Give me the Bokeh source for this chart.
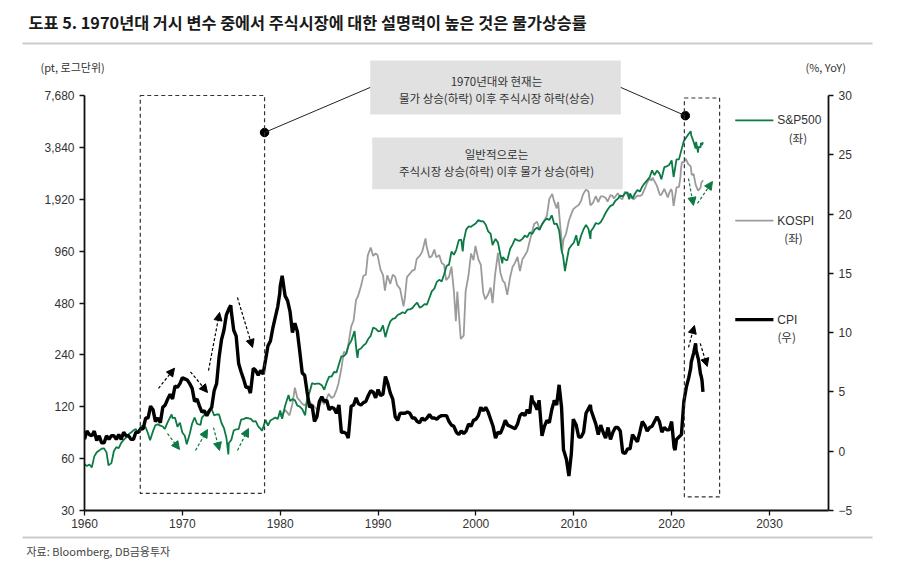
from bokeh.plotting import figure
from bokeh.models import (Range1d, LinearAxis, LinearScale, FixedTicker, NumeralTickFormatter,
                          BoxAnnotation, Arrow, NormalHead, Label)
from bokeh.core.properties import value
from bokeh.embed import file_html
from bokeh.resources import INLINE

# ---------------- data ----------------
sp_t = [1960.0, 1960.25, 1960.5, 1960.75, 1961.0, 1961.25, 1961.5, 1961.75,
        1962.0, 1962.25, 1962.45, 1962.75, 1963.0, 1963.25, 1963.5, 1963.75,
        1964.0, 1964.25, 1964.5, 1964.75, 1965.0, 1965.25, 1965.45, 1965.75,
        1966.0, 1966.25, 1966.5, 1966.7, 1967.0, 1967.25, 1967.5, 1967.75,
        1968.0, 1968.2, 1968.5, 1968.9, 1969.0, 1969.25, 1969.5, 1969.75,
        1970.0, 1970.25, 1970.45, 1970.75, 1971.0, 1971.25, 1971.5, 1971.85,
        1972.0, 1972.25, 1972.5, 1972.9, 1973.0, 1973.25, 1973.5, 1973.75,
        1974.0, 1974.25, 1974.5, 1974.7, 1974.75, 1975.0, 1975.25, 1975.5, 1975.75,
        1976.0, 1976.25, 1976.5, 1976.75, 1977.0, 1977.25, 1977.5, 1977.75,
        1978.0, 1978.15, 1978.5, 1978.75, 1979.0, 1979.25, 1979.5, 1979.75,
        1980.0, 1980.2, 1980.5, 1980.85, 1981.0, 1981.25, 1981.5, 1981.75,
        1982.0, 1982.25, 1982.55, 1982.75, 1983.0, 1983.25, 1983.5, 1983.75,
        1984.0, 1984.25, 1984.5, 1984.75, 1985.0, 1985.25, 1985.5, 1985.75,
        1986.0, 1986.25, 1986.5, 1986.75, 1987.0, 1987.25, 1987.6, 1987.8, 1987.9,
        1988.0, 1988.25, 1988.5, 1988.75, 1989.0, 1989.25, 1989.5, 1989.75,
        1990.0, 1990.25, 1990.5, 1990.75, 1991.0, 1991.25, 1991.5, 1991.75,
        1992.0, 1992.25, 1992.5, 1992.75, 1993.0, 1993.25, 1993.5, 1993.75,
        1994.0, 1994.25, 1994.5, 1994.75, 1995.0, 1995.25, 1995.5, 1995.75,
        1996.0, 1996.25, 1996.5, 1996.75, 1997.0, 1997.25, 1997.5, 1997.75,
        1998.0, 1998.25, 1998.5, 1998.65, 1998.75, 1999.0, 1999.25, 1999.5, 1999.75,
        2000.0, 2000.25, 2000.5, 2000.75, 2001.0, 2001.25, 2001.5, 2001.7, 2001.75,
        2002.0, 2002.25, 2002.5, 2002.7, 2002.75, 2003.0, 2003.2, 2003.5, 2003.75,
        2004.0, 2004.25, 2004.5, 2004.75, 2005.0, 2005.25, 2005.5, 2005.75,
        2006.0, 2006.25, 2006.5, 2006.75, 2007.0, 2007.25, 2007.5, 2007.75,
        2008.0, 2008.25, 2008.5, 2008.75, 2008.9, 2009.1, 2009.2, 2009.5, 2009.75,
        2010.0, 2010.25, 2010.45, 2010.75, 2011.0, 2011.25, 2011.5, 2011.7, 2011.75,
        2012.0, 2012.25, 2012.5, 2012.75, 2013.0, 2013.25, 2013.5, 2013.75,
        2014.0, 2014.25, 2014.5, 2014.75, 2015.0, 2015.25, 2015.5, 2015.65, 2015.75,
        2016.0, 2016.25, 2016.5, 2016.75, 2017.0, 2017.25, 2017.5, 2017.75,
        2018.0, 2018.25, 2018.5, 2018.75, 2018.95, 2019.25, 2019.5, 2019.75,
        2020.0, 2020.2, 2020.5, 2020.75, 2021.0, 2021.25, 2021.5, 2021.75, 2021.95,
        2022.0, 2022.25, 2022.45, 2022.5, 2022.7, 2022.75, 2022.95,
        2023.0, 2023.1, 2023.2]
sp_v = [55.6, 54.4, 55.5, 53.4, 61.8, 65.3, 66.8, 68.6,
        68.8, 65.2, 54.8, 56.5, 66.2, 70.0, 69.1, 74.0,
        77.0, 79.5, 83.2, 85.0, 87.6, 89.1, 84.1, 92.4,
        92.9, 91.1, 83.6, 76.6, 86.6, 94.0, 94.8, 93.3,
        92.2, 89.1, 97.7, 108.4, 103.0, 103.7, 91.8, 97.1,
        85.0, 81.5, 72.7, 83.3, 95.9, 103.9, 95.6, 94.0,
        103.9, 107.7, 107.4, 118.1, 116.0, 107.0, 108.2, 108.3,
        96.6, 90.3, 79.3, 63.5, 73.9, 77.0, 87.3, 88.8, 89.0,
        100.9, 101.6, 103.4, 102.9, 102.0, 98.4, 98.9, 92.3,
        89.3, 87.0, 100.7, 93.2, 99.9, 101.8, 103.8, 101.8,
        114.2, 102.1, 121.7, 140.5, 129.5, 132.8, 130.9, 121.9,
        120.4, 116.4, 107.1, 133.7, 145.3, 164.4, 162.6, 163.6,
        163.4, 160.1, 150.7, 166.1, 179.6, 179.8, 190.9, 189.8,
        211.8, 235.5, 236.1, 243.9, 274.1, 288.4, 329.8, 251.8, 230.3,
        257.1, 261.3, 272.0, 279.0, 297.5, 309.6, 346.1, 340.4,
        329.1, 330.8, 356.2, 304.0, 343.9, 375.3, 387.8, 392.5,
        408.8, 414.9, 424.2, 418.7, 438.8, 440.2, 448.1, 467.8,
        481.6, 450.9, 458.3, 472.4, 470.4, 514.7, 562.1, 581.5,
        636.0, 654.2, 639.9, 705.3, 786.2, 801.3, 954.3, 914.6,
        980.3, 1111.8, 1120.7, 957.3, 1098.7, 1279.6, 1335.2, 1328.7, 1362.9,
        1394.5, 1452.4, 1430.8, 1429.4, 1366.0, 1249.5, 1211.2, 1040.9, 1059.8,
        1130.2, 1076.9, 911.6, 815.3, 885.8, 855.7, 848.2, 990.3, 1050.7,
        1131.1, 1107.3, 1101.7, 1130.2, 1181.3, 1156.9, 1234.2, 1207.0,
        1280.1, 1310.6, 1276.7, 1377.9, 1438.2, 1482.4, 1455.3, 1549.4,
        1378.6, 1385.6, 1267.4, 968.8, 903.3, 735.1, 797.9, 987.5, 1036.2,
        1073.9, 1186.7, 1030.7, 1183.3, 1286.1, 1363.6, 1292.3, 1131.4, 1253.3,
        1312.4, 1397.9, 1379.3, 1412.2, 1498.1, 1597.6, 1685.7, 1756.5,
        1782.6, 1883.9, 1930.7, 2018.1, 1995.0, 2085.5, 2103.8, 1920.0, 2079.4,
        1940.2, 2065.3, 2173.6, 2126.2, 2278.9, 2384.2, 2470.3, 2575.3,
        2823.8, 2648.1, 2816.3, 2711.7, 2506.9, 2945.8, 2980.4, 3037.6,
        3225.5, 2584.6, 3271.1, 3270.0, 3714.2, 4181.2, 4395.3, 4605.4, 4766.2,
        4515.6, 4131.9, 3785.4, 4130.3, 3585.6, 3872.0, 3839.5,
        4076.6, 3970.2, 4109.3]

ks_t = [1980.0, 1980.5, 1980.95, 1981.25, 1981.5, 1981.75, 1981.95,
        1982.25, 1982.5, 1982.75, 1982.95, 1983.25, 1983.5, 1983.75, 1983.95,
        1984.25, 1984.5, 1984.75, 1984.95, 1985.25, 1985.5, 1985.75, 1985.95,
        1986.25, 1986.5, 1986.75, 1986.95, 1987.25, 1987.5, 1987.75, 1987.95,
        1988.25, 1988.5, 1988.75, 1988.95, 1989.25, 1989.5, 1989.75, 1989.95,
        1990.25, 1990.5, 1990.7, 1990.95, 1991.25, 1991.5, 1991.75, 1991.95,
        1992.25, 1992.6, 1992.75, 1992.95, 1993.25, 1993.5, 1993.75, 1993.95,
        1994.25, 1994.5, 1994.85, 1994.95, 1995.25, 1995.5, 1995.75, 1995.95,
        1996.25, 1996.5, 1996.75, 1996.95, 1997.25, 1997.5, 1997.75, 1997.95,
        1998.1, 1998.25, 1998.45, 1998.75, 1998.95, 1999.25, 1999.5, 1999.75, 1999.95,
        2000.25, 2000.5, 2000.75, 2000.95, 2001.25, 2001.5, 2001.7, 2001.95,
        2002.25, 2002.5, 2002.75, 2002.95, 2003.2, 2003.5, 2003.75, 2003.95,
        2004.25, 2004.5, 2004.75, 2004.95, 2005.25, 2005.5, 2005.75, 2005.95,
        2006.25, 2006.5, 2006.75, 2006.95, 2007.25, 2007.5, 2007.8, 2007.95,
        2008.25, 2008.4, 2008.75, 2008.8, 2008.95, 2009.2, 2009.5, 2009.75, 2009.95,
        2010.25, 2010.5, 2010.75, 2010.95, 2011.25, 2011.5, 2011.7, 2011.95,
        2012.25, 2012.5, 2012.75, 2012.95, 2013.25, 2013.45, 2013.75, 2013.95,
        2014.1, 2014.5, 2014.75, 2014.95, 2015.25, 2015.5, 2015.7, 2015.95,
        2016.1, 2016.5, 2016.75, 2016.95, 2017.25, 2017.5, 2017.75, 2017.95,
        2018.05, 2018.5, 2018.8, 2018.95, 2019.25, 2019.6, 2019.75, 2019.95,
        2020.05, 2020.2, 2020.5, 2020.75, 2020.9, 2020.95,
        2021.05, 2021.25, 2021.45, 2021.7, 2021.95,
        2022.05, 2022.25, 2022.45, 2022.7, 2022.95, 2023.05, 2023.1, 2023.2]
ks_v = [105, 115, 106.9, 125, 155, 135, 131.3,
        125, 122, 127, 129.0, 124, 120, 116, 121.2,
        130, 124, 134, 142.5, 135, 138, 150, 163.4,
        200, 250, 245, 272.6, 350, 380, 500, 525.1,
        600, 690, 700, 907.2, 1007, 900, 930, 909.7,
        750, 700, 566, 696, 620, 700, 680, 610.9,
        580, 459, 520, 678.4, 710, 740, 750, 866.2,
        900, 950, 1138, 1027.4, 880, 900, 980, 882.9,
        910, 820, 800, 651.2, 680, 780, 560, 376.3,
        560, 420, 297, 310, 562.5, 700, 930, 850, 1028.1,
        860, 800, 550, 504.6, 540, 590, 479, 693.7,
        937, 720, 646, 627.6, 535, 680, 780, 810.7,
        890, 735, 860, 895.9, 960, 1100, 1250, 1379.4,
        1420, 1290, 1360, 1434.5, 1540, 1930, 2064, 1897,
        1700, 1850, 1113, 940, 1124.5, 1206, 1440, 1580, 1682.8,
        1740, 1780, 1880, 2051, 2190, 2130, 1770, 1825.7,
        2000, 1850, 1996, 1997, 1960, 1863, 2030, 2011,
        1940, 2080, 1960, 1915.6, 2127, 2030, 1963, 1961,
        1912, 2016, 2008, 2026.5, 2205, 2402, 2523, 2467.5,
        2566, 2295, 2030, 2041, 2204, 1967, 2083, 2197.7,
        2119, 1754, 2249, 2267, 2591, 2873.5,
        3152, 3147, 3296, 3068, 2977.7,
        2663, 2685, 2332, 2155, 2236.4, 2425, 2412, 2476]

cpi_t = [1960.0, 1960.25, 1960.5, 1960.75, 1961.0, 1961.25, 1961.5, 1961.75,
         1962.0, 1962.25, 1962.5, 1962.75, 1963.0, 1963.25, 1963.5, 1963.75,
         1964.0, 1964.25, 1964.5, 1964.75, 1965.0, 1965.25, 1965.5, 1965.75,
         1966.0, 1966.25, 1966.5, 1966.75, 1967.0, 1967.25, 1967.5, 1967.75,
         1968.0, 1968.25, 1968.5, 1968.75, 1969.0, 1969.25, 1969.5, 1969.75,
         1970.0, 1970.25, 1970.5, 1970.75, 1971.0, 1971.25, 1971.5, 1971.75,
         1972.0, 1972.25, 1972.5, 1972.75, 1973.0, 1973.25, 1973.5, 1973.75,
         1974.0, 1974.25, 1974.5, 1974.75, 1974.95, 1975.0, 1975.25, 1975.5, 1975.75,
         1976.0, 1976.25, 1976.5, 1976.75, 1976.95, 1977.0, 1977.25, 1977.5, 1977.75,
         1978.0, 1978.25, 1978.5, 1978.75, 1979.0, 1979.25, 1979.5, 1979.75, 1979.95,
         1980.0, 1980.2, 1980.5, 1980.75, 1981.0, 1981.25, 1981.5, 1981.75,
         1982.0, 1982.25, 1982.5, 1982.75, 1983.0, 1983.25, 1983.5, 1983.75,
         1984.0, 1984.25, 1984.5, 1984.75, 1985.0, 1985.25, 1985.5, 1985.75,
         1986.0, 1986.25, 1986.5, 1986.75, 1986.95, 1987.0, 1987.25, 1987.5, 1987.75,
         1988.0, 1988.25, 1988.5, 1988.75, 1989.0, 1989.25, 1989.5, 1989.75,
         1990.0, 1990.25, 1990.5, 1990.75, 1991.0, 1991.25, 1991.5, 1991.75,
         1992.0, 1992.25, 1992.5, 1992.75, 1993.0, 1993.25, 1993.5, 1993.75,
         1994.0, 1994.25, 1994.5, 1994.75, 1995.0, 1995.25, 1995.5, 1995.75,
         1996.0, 1996.25, 1996.5, 1996.75, 1997.0, 1997.25, 1997.5, 1997.75,
         1998.0, 1998.25, 1998.5, 1998.75, 1999.0, 1999.25, 1999.5, 1999.75,
         2000.0, 2000.25, 2000.5, 2000.75, 2001.0, 2001.25, 2001.5, 2001.75,
         2002.0, 2002.25, 2002.5, 2002.75, 2003.0, 2003.25, 2003.5, 2003.75,
         2004.0, 2004.25, 2004.5, 2004.75, 2005.0, 2005.25, 2005.5, 2005.7, 2005.75,
         2006.0, 2006.25, 2006.45, 2006.75, 2007.0, 2007.25, 2007.5, 2007.75, 2007.95,
         2008.0, 2008.25, 2008.5, 2008.75, 2008.95, 2009.0, 2009.25, 2009.5, 2009.75, 2009.95,
         2010.0, 2010.25, 2010.5, 2010.75, 2011.0, 2011.25, 2011.7, 2011.75,
         2012.0, 2012.25, 2012.5, 2012.75, 2013.0, 2013.25, 2013.5, 2013.75,
         2014.0, 2014.25, 2014.5, 2014.75, 2015.0, 2015.25, 2015.5, 2015.75,
         2016.0, 2016.25, 2016.5, 2016.75, 2017.0, 2017.25, 2017.5, 2017.75,
         2018.0, 2018.25, 2018.5, 2018.75, 2019.0, 2019.25, 2019.5, 2019.75,
         2020.0, 2020.25, 2020.35, 2020.5, 2020.75, 2021.0, 2021.25, 2021.5, 2021.75, 2021.95,
         2022.0, 2022.25, 2022.45, 2022.5, 2022.75, 2022.95, 2023.0, 2023.1, 2023.2]
cpi_v = [1.0, 1.7, 1.4, 1.3, 1.7, 0.9, 1.3, 0.7,
         0.7, 1.3, 1.0, 1.3, 1.3, 1.0, 1.4, 1.0,
         1.6, 1.3, 1.3, 1.0, 1.0, 1.6, 1.6, 1.9,
         1.9, 2.8, 2.8, 3.8, 3.5, 2.5, 2.8, 2.4,
         3.7, 3.9, 4.4, 4.8, 4.4, 5.5, 5.4, 5.7,
         6.2, 6.1, 6.0, 5.7, 5.3, 4.2, 4.4, 3.8,
         3.3, 3.4, 3.0, 3.4, 3.7, 5.1, 5.7, 7.9,
         9.4, 10.2, 11.5, 12.0, 12.3, 11.8, 10.2, 9.7, 7.4,
         6.7, 6.1, 5.4, 5.4, 4.9, 5.2, 7.0, 6.8, 6.4,
         6.8, 6.5, 7.7, 8.9, 9.3, 10.4, 11.3, 12.2, 13.3,
         13.9, 14.8, 13.1, 12.7, 11.8, 10.0, 10.8, 10.1,
         8.4, 6.6, 6.4, 5.0, 3.7, 3.9, 2.5, 2.9,
         4.2, 4.6, 4.2, 4.3, 3.5, 3.7, 3.6, 3.2,
         3.9, 1.6, 1.6, 1.5, 1.1, 1.5, 3.8, 3.9, 4.5,
         4.0, 3.9, 4.1, 4.2, 4.7, 5.1, 5.0, 4.5,
         5.2, 4.7, 4.8, 6.3, 5.7, 4.9, 4.4, 2.9,
         2.6, 3.2, 3.2, 3.2, 3.3, 3.2, 2.8, 2.8,
         2.5, 2.4, 2.8, 2.6, 2.8, 3.1, 2.8, 2.8,
         2.7, 2.9, 3.0, 3.0, 3.0, 2.5, 2.2, 2.1,
         1.6, 1.4, 1.7, 1.5, 1.7, 2.3, 2.1, 2.6,
         2.7, 3.0, 3.7, 3.4, 3.7, 3.3, 2.7, 2.1,
         1.1, 1.6, 1.5, 2.0, 2.6, 2.2, 2.1, 2.0,
         1.9, 2.3, 3.0, 3.2, 3.0, 3.5, 3.2, 4.7, 4.3,
         4.0, 3.5, 4.3, 1.3, 2.1, 2.6, 2.4, 3.5, 4.1,
         4.3, 3.9, 5.6, 3.7, 0.1, 0.0, -0.7, -2.1, -0.2, 2.7,
         2.6, 2.2, 1.2, 1.2, 1.6, 3.2, 3.9, 3.5,
         2.9, 2.3, 1.4, 2.2, 1.6, 1.1, 2.0, 1.0,
         1.6, 2.0, 2.0, 1.7, -0.1, -0.2, 0.2, 0.2,
         1.4, 1.1, 0.8, 1.6, 2.5, 2.2, 1.7, 2.0,
         2.1, 2.5, 2.9, 2.5, 1.6, 2.0, 1.8, 1.8,
         2.5, 0.3, 0.1, 1.0, 1.2, 1.4, 4.2, 5.4, 6.2, 7.0,
         7.5, 8.3, 9.1, 8.5, 7.7, 6.5, 6.4, 6.0, 5.0]

left_ticks = [30, 60, 120, 240, 480, 960, 1920, 3840, 7680]
right_ticks = [-5, 0, 5, 10, 15, 20, 25, 30]
year_ticks = [1960, 1970, 1980, 1990, 2000, 2010, 2020, 2030]

TITLE = "도표 5. 1970년대 거시 변수 중에서 주식시장에 대한 설명력이 높은 것은 물가상승률"
SOURCE = "자료: Bloomberg, DB금융투자"

# ---------------- layout (reference pixel geometry) ----------------
W, H = 884, 561
FL, FR, FT, FB = 84, 828, 50, 510          # frame edges in page px
PX_YEAR = 685.0 / 70.0                     # px per year
PX_DOUBLE = 415.0 / 8.0                    # px per doubling (left log axis)
PX_PCT = 415.0 / 35.0                      # px per %p (right axis)

x_lo = 1960.0
x_hi = x_lo + (FR - FL) / PX_YEAR
y_lo = 30.0
y_hi = 30.0 * 2 ** ((FB - FT) / PX_DOUBLE)
c_lo = -5.0
c_hi = c_lo + (FB - FT) / PX_PCT


def X(px):
    return x_lo + (px - FL) / PX_YEAR


def C(py):
    return c_lo + (FB - py) / PX_PCT


KFONT = "Noto Sans CJK KR"
NFONT = "Liberation Sans"
GREEN = "#0c7a45"
GREY = "#9b9b9b"

p = figure(width=W, height=H, x_range=Range1d(x_lo, x_hi), y_range=Range1d(y_lo, y_hi),
           y_axis_type="log", output_backend="svg", toolbar_location=None,
           min_border_left=FL, min_border_right=W - FR,
           min_border_top=FT, min_border_bottom=H - FB)
p.title.visible = False
p.outline_line_color = None
p.xgrid.visible = False
p.ygrid.visible = False
p.background_fill_color = "white"
p.border_fill_color = "white"
p.extra_y_ranges = {"cpi": Range1d(c_lo, c_hi)}
p.extra_y_scales = {"cpi": LinearScale()}


def style_axis(ax):
    ax.axis_line_color = "#111111"
    ax.axis_line_width = 1.8
    ax.major_tick_line_color = "#111111"
    ax.major_tick_line_width = 1.3
    ax.major_tick_out = 5
    ax.major_tick_in = 0
    ax.minor_tick_out = 0
    ax.minor_tick_in = 0
    ax.major_label_text_font = NFONT
    ax.major_label_text_font_size = "12px"
    ax.major_label_text_color = "#333333"
    ax.major_label_standoff = 5


ly = p.yaxis[0]
ly.ticker = FixedTicker(ticks=left_ticks, minor_ticks=[])
ly.formatter = NumeralTickFormatter(format="0,0")
ly.bounds = (30, 7680)
style_axis(ly)

xa = p.xaxis[0]
xa.ticker = FixedTicker(ticks=year_ticks, minor_ticks=[])
style_axis(xa)
xa.major_label_standoff = 3

ry = LinearAxis(y_range_name="cpi", ticker=FixedTicker(ticks=right_ticks, minor_ticks=[]),
                bounds=(-5, 30))
style_axis(ry)
p.add_layout(ry, "right")

# ---------------- series ----------------
p.line(ks_t, ks_v, line_color=GREY, line_width=1.8)
p.line(sp_t, sp_v, line_color=GREEN, line_width=1.8)
p.line(cpi_t, cpi_v, y_range_name="cpi", line_color="black", line_width=3.4)

# ---------------- annotations ----------------
for l, r, b, t in [(1965.7, 1978.4, 37.7, 7680), (2021.3, 2024.9, 36.0, 7430)]:
    p.add_layout(BoxAnnotation(left=l, right=r, bottom=b, top=t, fill_alpha=0,
                               line_color="#333333", line_alpha=1.0, line_dash="4 3",
                               line_width=1.2))

for l, r, b, t in [(1989.2, 2014.8, 28.4, 32.95), (1989.4, 2015.0, 22.1, 26.45)]:
    p.add_layout(BoxAnnotation(left=l, right=r, bottom=b, top=t, y_range_name="cpi",
                               fill_color="#e1e1e1", fill_alpha=1, line_color=None))

box_texts = [("1970년대와 현재는", 31.25), ("물가 상승(하락) 이후 주식시장 하락(상승)", 29.75),
             ("일반적으로는", 25.1), ("주식시장 상승(하락) 이후 물가 상승(하락)", 23.6)]
for txt, yy in box_texts:
    p.add_layout(Label(x=2002.1, y=yy, y_range_name="cpi", text=txt, text_align="center",
                       text_baseline="middle", text_font=KFONT, text_font_size="11.5px",
                       text_color="#333333"))

# connectors from box to markers
p.add_layout(Arrow(end=None, x_start=1989.2, y_start=30.68, x_end=1978.4, y_end=26.88,
                   y_range_name="cpi", line_color="#222222", line_width=1))
p.add_layout(Arrow(end=None, x_start=2014.8, y_start=30.68, x_end=2021.4, y_end=28.3,
                   y_range_name="cpi", line_color="#222222", line_width=1))
p.scatter([1978.4, 2021.4], [26.88, 28.3], y_range_name="cpi", size=8.5,
          fill_color="black", line_color="black")

# dashed direction arrows: CPI (right axis)
cpi_arrows = [(1967.56, 5.3, 1969.2, 7.0), (1970.83, 6.7, 1972.57, 4.95),
              (1972.67, 6.8, 1973.8, 11.7), (1975.63, 12.96, 1977.17, 8.75),
              (2021.72, 8.75, 2022.33, 10.6), (2022.92, 9.1, 2023.64, 7.15)]
for xs, ys, xe, ye in cpi_arrows:
    p.add_layout(Arrow(end=NormalHead(size=8, fill_color="black", line_color="black", line_width=1),
                       x_start=xs, y_start=ys, x_end=xe, y_end=ye, y_range_name="cpi",
                       line_color="black", line_width=1.2, line_dash="3 2"))

# dashed direction arrows: stock (left axis)
stock_arrows = [(1968.48, 83.9, 1969.71, 67.8), (1971.34, 66.9, 1972.57, 88.5),
                (1973.18, 90.9, 1973.8, 66.9), (1975.63, 66.9, 1976.76, 89.7),
                (2021.72, 2533, 2022.23, 1767), (2022.64, 1815, 2024.17, 2433)]
for xs, ys, xe, ye in stock_arrows:
    p.add_layout(Arrow(end=NormalHead(size=8, fill_color=GREEN, line_color=GREEN, line_width=1),
                       x_start=xs, y_start=ys, x_end=xe, y_end=ye,
                       line_color=GREEN, line_width=1.2, line_dash="3 2"))

# legend
legend_items = [("S&P500", "(좌)", GREEN, 1.8, 27.9, 2032.9),
                ("KOSPI", "(좌)", GREY, 1.8, 19.45, 2032.45),
                ("CPI", "(우)", "black", 3.4, 11.1, 2031.75)]
for name, side, col, lw, yy, cx in legend_items:
    p.add_layout(Arrow(end=None, x_start=2026.5, x_end=2030.4, y_start=yy, y_end=yy,
                       y_range_name="cpi", line_color=col, line_width=lw))
    p.add_layout(Label(x=2030.8, y=yy, y_range_name="cpi", text=name, text_align="left",
                       text_baseline="middle", text_font=NFONT, text_font_size="12px",
                       text_color="#333333"))
    p.add_layout(Label(x=cx, y=yy - 1.5, y_range_name="cpi", text=side, text_align="center",
                       text_baseline="middle", text_font=KFONT, text_font_size="11.5px",
                       text_color="#333333"))

# ---------- texts and rules outside the frame (overlay level, not clipped) ----------
outer_texts = [
    (X(28), C(21), TITLE, "16.3px", "bold", "#1a1a1a"),
    (X(40), C(66), "(pt, 로그단위)", "11px", "normal", "#333333"),
    (X(805), C(66), "(%, YoY)", "11px", "normal", "#333333"),
    (X(26), C(550), SOURCE, "11px", "normal", "#444444"),
]
for xx, yy, txt, fs, fst, col in outer_texts:
    p.text(x=[xx], y=[yy], text=[txt], y_range_name="cpi", level="overlay",
           text_font=value(KFONT), text_font_size=fs, text_font_style=fst,
           text_color=col, text_align="left", text_baseline="middle")

p.segment(x0=[X(22), X(22)], x1=[X(872), X(872)], y0=[C(43), C(537)], y1=[C(43), C(537)],
          y_range_name="cpi", level="overlay", line_color="#cccccc", line_width=2)

open("out.html", "w").write(file_html(p, INLINE))
